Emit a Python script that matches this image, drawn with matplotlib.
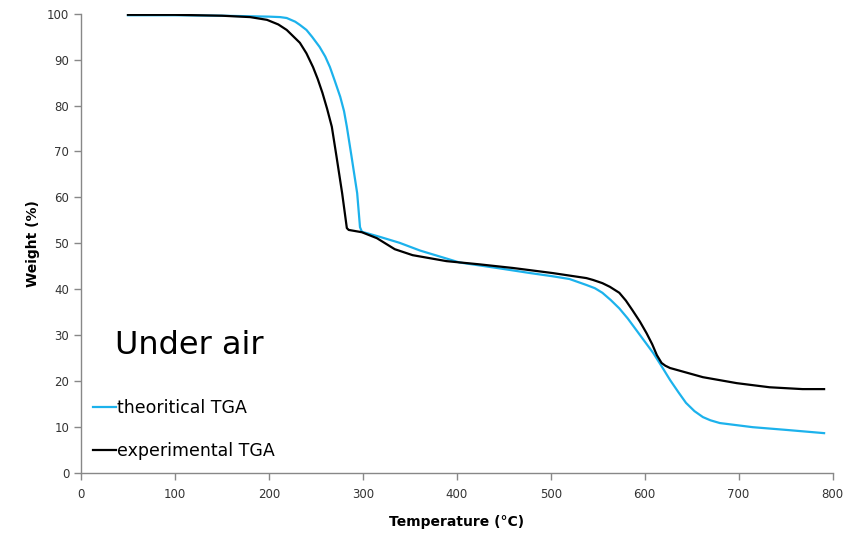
import matplotlib.pyplot as plt

# Theoretical TGA curve
theo_temp = [50, 100, 150, 200, 212, 219, 228, 233, 240, 246, 254, 260, 265, 270, 276, 280, 283, 288,
             294, 297, 299, 318, 339, 361, 382, 403, 443, 478, 502, 520, 538, 547, 555, 564, 573,
             582, 591, 600, 609, 618, 627, 636, 644, 653, 662, 670, 680, 715, 751, 791]
theo_weight = [99.7, 99.7, 99.6, 99.4, 99.3, 99.1, 98.3, 97.6, 96.5, 95.0, 92.8, 90.7, 88.4, 85.5, 81.9,
               78.8, 75.4, 68.9, 60.9, 53.5, 52.5, 51.4, 50.1, 48.4, 47.1, 45.8, 44.6, 43.5, 42.8, 42.2,
               40.9, 40.2, 39.2, 37.6, 35.8, 33.6, 31.1, 28.6, 26.1, 23.2, 20.2, 17.5, 15.2, 13.4, 12.1,
               11.4, 10.8, 9.9, 9.3, 8.6]

# Experimental TGA curve
exp_temp = [50, 100, 150, 180, 198, 210, 219, 225, 233, 240, 247, 252, 257, 262, 267, 272, 278, 283,
            285, 299, 315, 334, 353, 389, 424, 460, 502, 538, 545, 555, 563, 573, 580, 587, 595,
            602, 608, 613, 618, 622, 627, 662, 698, 733, 768, 791]
exp_weight = [99.8, 99.8, 99.6, 99.3, 98.7, 97.7, 96.5, 95.3, 93.7, 91.4, 88.4, 85.8, 82.8, 79.3, 75.4,
              68.9, 60.9, 53.3, 52.9, 52.4, 51.1, 48.7, 47.4, 46.1, 45.4, 44.6, 43.5, 42.4, 42.0, 41.3,
              40.5, 39.2, 37.5, 35.4, 32.9, 30.4, 28.0, 25.6, 23.9, 23.3, 22.8, 20.8, 19.5, 18.6, 18.2,
              18.2]

fig = plt.figure(figsize=(8.56, 5.34), dpi=100)
ax = fig.add_axes([0.0946, 0.115, 0.878, 0.859])

ax.plot(theo_temp, theo_weight, color='#1cb2ec', lw=1.6, label='theoritical TGA')
ax.plot(exp_temp, exp_weight, color='black', lw=1.6, label='experimental TGA')

ax.set_xlim(0, 800)
ax.set_ylim(0, 100)
ax.set_xticks(range(0, 801, 100))
ax.set_yticks(range(0, 101, 10))

for s in ['top', 'right']:
    ax.spines[s].set_visible(False)
for s in ['left', 'bottom']:
    ax.spines[s].set_color('#888888')
    ax.spines[s].set_linewidth(1.0)
ax.tick_params(colors='#888888', labelcolor='#333333', labelsize=8.5, length=5, width=1.0)
ax.tick_params(axis='x', pad=6)

ax.set_xlabel('Temperature (°C)', fontsize=10, fontweight='bold', labelpad=10)
ax.set_ylabel('Weight (%)', fontsize=10, fontweight='bold', labelpad=5)

ax.text(36, 27.8, 'Under air', fontsize=23, va='center', ha='left')

leg = ax.legend(loc='lower left', bbox_to_anchor=(0.0, 0.0), frameon=False,
                fontsize=12.5, handlelength=1.3, handletextpad=0.1, labelspacing=1.45,
                borderaxespad=0.3)

fig.savefig('out.png', dpi=100)
